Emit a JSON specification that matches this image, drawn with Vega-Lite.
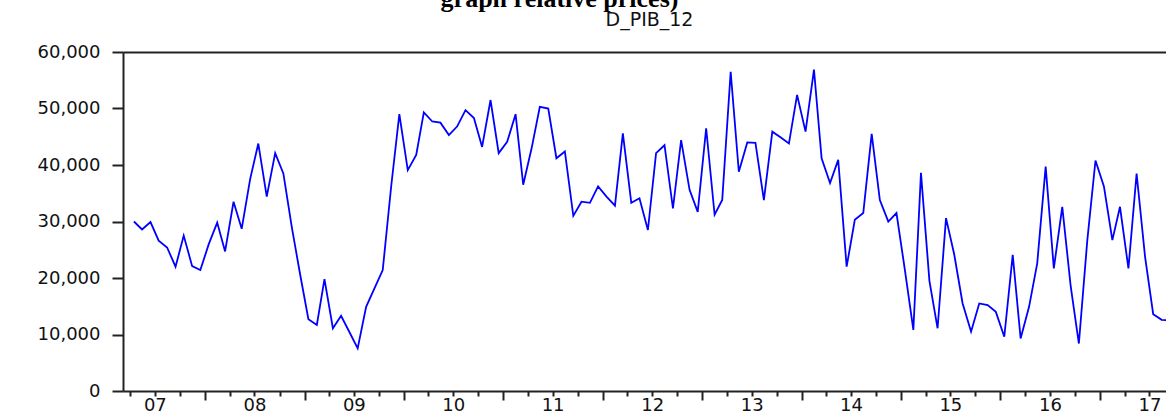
{
  "$schema": "https://vega.github.io/schema/vega-lite/v6.json",
  "autosize": {"type": "none"},
  "padding": {"left": 123, "top": 52, "right": 0, "bottom": 26},
  "width": 1043,
  "height": 339,
  "background": "white",
  "title": {
    "text": "graph relative prices)",
    "frame": "group",
    "anchor": "middle",
    "baseline": "alphabetic",
    "offset": 2,
    "dy": 25,
    "dx": -85,
    "font": "Liberation Serif",
    "fontWeight": "bold",
    "fontSize": 26,
    "color": "#000000"
  },
  "data": {
    "values": [
      {"date": "2007-04-15", "value": 30000},
      {"date": "2007-05-15", "value": 28600},
      {"date": "2007-06-15", "value": 29900},
      {"date": "2007-07-15", "value": 26600},
      {"date": "2007-08-15", "value": 25400},
      {"date": "2007-09-15", "value": 22000},
      {"date": "2007-10-15", "value": 27500},
      {"date": "2007-11-15", "value": 22100},
      {"date": "2007-12-15", "value": 21400},
      {"date": "2008-01-15", "value": 26000},
      {"date": "2008-02-15", "value": 29800},
      {"date": "2008-03-15", "value": 24700},
      {"date": "2008-04-15", "value": 33500},
      {"date": "2008-05-15", "value": 28700},
      {"date": "2008-06-15", "value": 37500},
      {"date": "2008-07-15", "value": 43800},
      {"date": "2008-08-15", "value": 34400},
      {"date": "2008-09-15", "value": 42100},
      {"date": "2008-10-15", "value": 38500},
      {"date": "2008-11-15", "value": 29000},
      {"date": "2008-12-15", "value": 20800},
      {"date": "2009-01-15", "value": 12700},
      {"date": "2009-02-15", "value": 11700},
      {"date": "2009-03-15", "value": 19800},
      {"date": "2009-04-15", "value": 11100},
      {"date": "2009-05-15", "value": 13300},
      {"date": "2009-06-15", "value": 10400},
      {"date": "2009-07-15", "value": 7550},
      {"date": "2009-08-15", "value": 14900},
      {"date": "2009-09-15", "value": 18200},
      {"date": "2009-10-15", "value": 21400},
      {"date": "2009-11-15", "value": 36200},
      {"date": "2009-12-15", "value": 49000},
      {"date": "2010-01-15", "value": 39100},
      {"date": "2010-02-15", "value": 41800},
      {"date": "2010-03-15", "value": 49300},
      {"date": "2010-04-15", "value": 47700},
      {"date": "2010-05-15", "value": 47500},
      {"date": "2010-06-15", "value": 45300},
      {"date": "2010-07-15", "value": 46800},
      {"date": "2010-08-15", "value": 49700},
      {"date": "2010-09-15", "value": 48300},
      {"date": "2010-10-15", "value": 43200},
      {"date": "2010-11-15", "value": 51500},
      {"date": "2010-12-15", "value": 42100},
      {"date": "2011-01-15", "value": 44100},
      {"date": "2011-02-15", "value": 49000},
      {"date": "2011-03-15", "value": 36500},
      {"date": "2011-04-15", "value": 43000},
      {"date": "2011-05-15", "value": 50300},
      {"date": "2011-06-15", "value": 50000},
      {"date": "2011-07-15", "value": 41200},
      {"date": "2011-08-15", "value": 42400},
      {"date": "2011-09-15", "value": 31000},
      {"date": "2011-10-15", "value": 33500},
      {"date": "2011-11-15", "value": 33300},
      {"date": "2011-12-15", "value": 36200},
      {"date": "2012-01-15", "value": 34400},
      {"date": "2012-02-15", "value": 32800},
      {"date": "2012-03-15", "value": 45600},
      {"date": "2012-04-15", "value": 33300},
      {"date": "2012-05-15", "value": 34100},
      {"date": "2012-06-15", "value": 28500},
      {"date": "2012-07-15", "value": 42100},
      {"date": "2012-08-15", "value": 43500},
      {"date": "2012-09-15", "value": 32300},
      {"date": "2012-10-15", "value": 44400},
      {"date": "2012-11-15", "value": 35600},
      {"date": "2012-12-15", "value": 31700},
      {"date": "2013-01-15", "value": 46500},
      {"date": "2013-02-15", "value": 31200},
      {"date": "2013-03-15", "value": 33800},
      {"date": "2013-04-15", "value": 56500},
      {"date": "2013-05-15", "value": 38800},
      {"date": "2013-06-15", "value": 44000},
      {"date": "2013-07-15", "value": 43900},
      {"date": "2013-08-15", "value": 33800},
      {"date": "2013-09-15", "value": 45900},
      {"date": "2013-10-15", "value": 44900},
      {"date": "2013-11-15", "value": 43800},
      {"date": "2013-12-15", "value": 52400},
      {"date": "2014-01-15", "value": 45900},
      {"date": "2014-02-15", "value": 56900},
      {"date": "2014-03-15", "value": 41200},
      {"date": "2014-04-15", "value": 36800},
      {"date": "2014-05-15", "value": 40900},
      {"date": "2014-06-15", "value": 22000},
      {"date": "2014-07-15", "value": 30300},
      {"date": "2014-08-15", "value": 31500},
      {"date": "2014-09-15", "value": 45500},
      {"date": "2014-10-15", "value": 33800},
      {"date": "2014-11-15", "value": 30000},
      {"date": "2014-12-15", "value": 31500},
      {"date": "2015-01-15", "value": 21400},
      {"date": "2015-02-15", "value": 10800},
      {"date": "2015-03-15", "value": 38600},
      {"date": "2015-04-15", "value": 19500},
      {"date": "2015-05-15", "value": 11100},
      {"date": "2015-06-15", "value": 30600},
      {"date": "2015-07-15", "value": 24200},
      {"date": "2015-08-15", "value": 15500},
      {"date": "2015-09-15", "value": 10500},
      {"date": "2015-10-15", "value": 15500},
      {"date": "2015-11-15", "value": 15200},
      {"date": "2015-12-15", "value": 14000},
      {"date": "2016-01-15", "value": 9600},
      {"date": "2016-02-15", "value": 24100},
      {"date": "2016-03-15", "value": 9300},
      {"date": "2016-04-15", "value": 14900},
      {"date": "2016-05-15", "value": 22600},
      {"date": "2016-06-15", "value": 39700},
      {"date": "2016-07-15", "value": 21700},
      {"date": "2016-08-15", "value": 32600},
      {"date": "2016-09-15", "value": 18500},
      {"date": "2016-10-15", "value": 8400},
      {"date": "2016-11-15", "value": 26700},
      {"date": "2016-12-15", "value": 40800},
      {"date": "2017-01-15", "value": 36200},
      {"date": "2017-02-15", "value": 26700},
      {"date": "2017-03-15", "value": 32600},
      {"date": "2017-04-15", "value": 21700},
      {"date": "2017-05-15", "value": 38500},
      {"date": "2017-06-15", "value": 23800},
      {"date": "2017-07-15", "value": 13600},
      {"date": "2017-08-15", "value": 12600},
      {"date": "2017-09-15", "value": 12500}
    ]
  },
  "layer": [
    {
      "mark": {"type": "line", "color": "#0000ff", "strokeWidth": 1.8, "clip": true},
      "encoding": {
        "x": {
          "field": "date",
          "type": "temporal",
          "scale": {"type": "utc", "nice": false, "domain": [{"year": 2007, "month": 3, "date": 6, "utc": true}, {"year": 2017, "month": 8, "date": 31, "utc": true}]},
          "axis": {
            "orient": "bottom",
            "title": null,
            "labels": false,
            "grid": false,
            "domain": true,
            "domainColor": "#222222",
            "domainWidth": 2,
            "ticks": true,
            "tickSize": 9,
            "tickWidth": 2,
            "tickColor": "#222222",
            "values": [
              {"year": 2008, "month": 1, "date": 1, "utc": true},
              {"year": 2009, "month": 1, "date": 1, "utc": true},
              {"year": 2010, "month": 1, "date": 1, "utc": true},
              {"year": 2011, "month": 1, "date": 1, "utc": true},
              {"year": 2012, "month": 1, "date": 1, "utc": true},
              {"year": 2013, "month": 1, "date": 1, "utc": true},
              {"year": 2014, "month": 1, "date": 1, "utc": true},
              {"year": 2015, "month": 1, "date": 1, "utc": true},
              {"year": 2016, "month": 1, "date": 1, "utc": true},
              {"year": 2017, "month": 1, "date": 1, "utc": true}
            ]
          }
        },
        "y": {
          "field": "value",
          "type": "quantitative",
          "scale": {"domain": [0, 60000], "nice": false},
          "axis": {
            "title": null,
            "grid": false,
            "values": [0, 10000, 20000, 30000, 40000, 50000, 60000],
            "format": ",d",
            "domainColor": "#222222",
            "domainWidth": 2,
            "tickColor": "#222222",
            "tickWidth": 2,
            "tickSize": 11,
            "labelPadding": 12,
            "labelFont": "DejaVu Sans",
            "labelFontSize": 18,
            "labelColor": "#111111",
            "labelBaseline": "middle"
          }
        }
      }
    },
    {
      "mark": {"type": "point", "opacity": 0},
      "encoding": {
        "x": {
          "field": "date",
          "type": "temporal",
          "scale": {"type": "utc", "nice": false, "domain": [{"year": 2007, "month": 3, "date": 6, "utc": true}, {"year": 2017, "month": 8, "date": 31, "utc": true}]},
          "axis": {
            "orient": "bottom",
            "title": null,
            "labels": false,
            "grid": false,
            "domain": false,
            "ticks": true,
            "tickSize": 5,
            "tickWidth": 2,
            "tickColor": "#222222",
            "values": [
              {"year": 2007, "month": 4, "date": 1, "utc": true},
              {"year": 2007, "month": 7, "date": 1, "utc": true},
              {"year": 2007, "month": 10, "date": 1, "utc": true},
              {"year": 2008, "month": 4, "date": 1, "utc": true},
              {"year": 2008, "month": 7, "date": 1, "utc": true},
              {"year": 2008, "month": 10, "date": 1, "utc": true},
              {"year": 2009, "month": 4, "date": 1, "utc": true},
              {"year": 2009, "month": 7, "date": 1, "utc": true},
              {"year": 2009, "month": 10, "date": 1, "utc": true},
              {"year": 2010, "month": 4, "date": 1, "utc": true},
              {"year": 2010, "month": 7, "date": 1, "utc": true},
              {"year": 2010, "month": 10, "date": 1, "utc": true},
              {"year": 2011, "month": 4, "date": 1, "utc": true},
              {"year": 2011, "month": 7, "date": 1, "utc": true},
              {"year": 2011, "month": 10, "date": 1, "utc": true},
              {"year": 2012, "month": 4, "date": 1, "utc": true},
              {"year": 2012, "month": 7, "date": 1, "utc": true},
              {"year": 2012, "month": 10, "date": 1, "utc": true},
              {"year": 2013, "month": 4, "date": 1, "utc": true},
              {"year": 2013, "month": 7, "date": 1, "utc": true},
              {"year": 2013, "month": 10, "date": 1, "utc": true},
              {"year": 2014, "month": 4, "date": 1, "utc": true},
              {"year": 2014, "month": 7, "date": 1, "utc": true},
              {"year": 2014, "month": 10, "date": 1, "utc": true},
              {"year": 2015, "month": 4, "date": 1, "utc": true},
              {"year": 2015, "month": 7, "date": 1, "utc": true},
              {"year": 2015, "month": 10, "date": 1, "utc": true},
              {"year": 2016, "month": 4, "date": 1, "utc": true},
              {"year": 2016, "month": 7, "date": 1, "utc": true},
              {"year": 2016, "month": 10, "date": 1, "utc": true},
              {"year": 2017, "month": 4, "date": 1, "utc": true},
              {"year": 2017, "month": 7, "date": 1, "utc": true}
            ]
          }
        }
      }
    },
    {
      "mark": {"type": "point", "opacity": 0},
      "encoding": {
        "x": {
          "field": "date",
          "type": "temporal",
          "scale": {"type": "utc", "nice": false, "domain": [{"year": 2007, "month": 3, "date": 6, "utc": true}, {"year": 2017, "month": 8, "date": 31, "utc": true}]},
          "axis": {
            "orient": "bottom",
            "title": null,
            "grid": false,
            "domain": false,
            "ticks": false,
            "labels": true,
            "format": "%y",
            "labelPadding": 5,
            "labelBaseline": "top",
            "labelFont": "DejaVu Sans",
            "labelFontSize": 18,
            "labelColor": "#111111",
            "labelFlush": false,
            "labelOverlap": false,
            "labelBound": false,
            "values": [
              {"year": 2007, "month": 7, "date": 1, "utc": true},
              {"year": 2008, "month": 7, "date": 1, "utc": true},
              {"year": 2009, "month": 7, "date": 1, "utc": true},
              {"year": 2010, "month": 7, "date": 1, "utc": true},
              {"year": 2011, "month": 7, "date": 1, "utc": true},
              {"year": 2012, "month": 7, "date": 1, "utc": true},
              {"year": 2013, "month": 7, "date": 1, "utc": true},
              {"year": 2014, "month": 7, "date": 1, "utc": true},
              {"year": 2015, "month": 7, "date": 1, "utc": true},
              {"year": 2016, "month": 7, "date": 1, "utc": true},
              {"year": 2017, "month": 7, "date": 1, "utc": true}
            ]
          }
        }
      }
    },
    {
      "mark": {"type": "point", "opacity": 0},
      "encoding": {
        "x": {
          "field": "date",
          "type": "temporal",
          "scale": {"type": "utc", "nice": false, "domain": [{"year": 2007, "month": 3, "date": 6, "utc": true}, {"year": 2017, "month": 8, "date": 31, "utc": true}]},
          "axis": {
            "orient": "top",
            "title": "D_PIB_12",
            "titleFont": "DejaVu Sans",
            "titleFontSize": 19,
            "titleFontWeight": "normal",
            "titleColor": "#111111",
            "titleBaseline": "alphabetic",
            "titlePadding": 27,
            "titleX": 526,
            "grid": false,
            "domain": true,
            "domainColor": "#222222",
            "domainWidth": 2,
            "ticks": false,
            "labels": false
          }
        }
      }
    }
  ],
  "resolve": {"axis": {"x": "independent"}},
  "config": {
    "view": {"stroke": null},
    "axis": {"grid": false}
  }
}
